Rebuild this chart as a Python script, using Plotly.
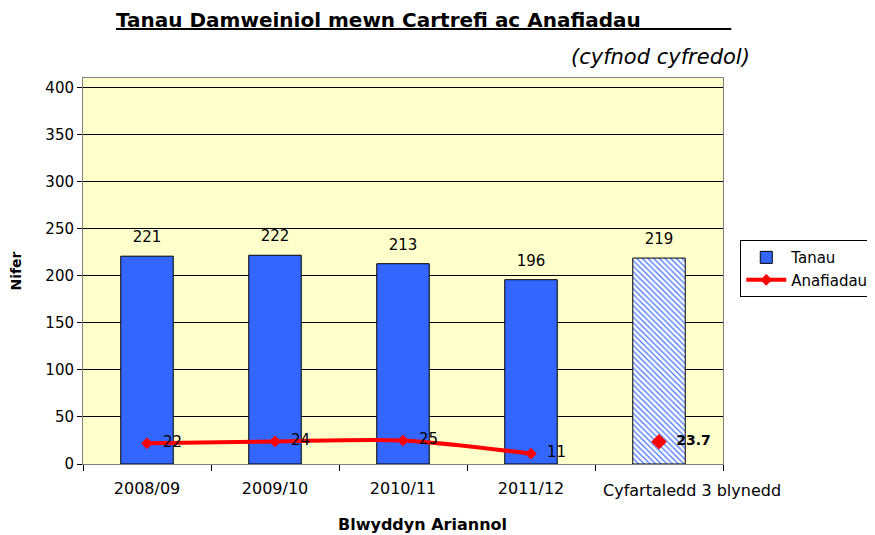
import plotly.graph_objects as go

categories = ["2008/09", "2009/10", "2010/11", "2011/12", "Cyfartaledd 3 blynedd"]
fires = [221, 222, 213, 196, 219]
injury_cats = ["2008/09", "2009/10", "2010/11", "2011/12"]
injuries = [22, 24, 25, 11]
avg_injuries = 23.7
y_ticks = [0, 50, 100, 150, 200, 250, 300, 350, 400]
# last category label sits right of its slot in the original; drawn separately
tick_labels = categories[:4] + [""]

FONT = "DejaVu Sans, Verdana, sans-serif"
BLUE = "#3366FF"

fig = go.Figure()

# annual bars (solid)
fig.add_trace(go.Bar(
    x=categories[:4], y=fires[:4], name="Tanau",
    width=0.41,
    marker=dict(color=BLUE, line=dict(color="black", width=1)),
))

# average bar (hatched)
fig.add_trace(go.Bar(
    x=categories[4:], y=fires[4:], name="Tanau", showlegend=False,
    width=0.41,
    marker=dict(
        color="white",
        line=dict(color="black", width=1),
        pattern=dict(shape="\\", fgcolor=BLUE, bgcolor="white",
                     fgopacity=0.85, size=4, solidity=0.35, fillmode="replace"),
    ),
))

# bar value labels placed above the bars
fig.add_trace(go.Scatter(
    x=categories, y=fires, mode="markers+text", showlegend=False,
    marker=dict(size=15, opacity=0),
    text=[str(v) for v in fires], textposition="top center",
    textfont=dict(size=15, color="black", family=FONT),
    hoverinfo="skip", cliponaxis=False,
))

fig.add_trace(go.Scatter(
    x=injury_cats, y=injuries, name="Anafiadau",
    mode="lines+markers",
    line=dict(color="#FF0000", width=4, shape="spline", smoothing=0.8),
    marker=dict(symbol="diamond", size=9, color="#FF0000"),
))

# injury value labels, offset to the right of the markers
fig.add_trace(go.Scatter(
    x=injury_cats, y=injuries, mode="markers+text", showlegend=False,
    marker=dict(size=24, opacity=0),
    text=[str(v) for v in injuries], textposition="middle right",
    textfont=dict(size=15, color="black", family=FONT),
    hoverinfo="skip", cliponaxis=False,
))

fig.add_trace(go.Scatter(
    x=[categories[-1]], y=[avg_injuries], name="Anafiadau",
    mode="markers", showlegend=False,
    marker=dict(symbol="diamond", size=12, color="#FF0000"),
))

fig.add_trace(go.Scatter(
    x=[categories[-1]], y=[avg_injuries], mode="markers+text", showlegend=False,
    marker=dict(size=26, opacity=0),
    text=["<b>%.1f</b>" % avg_injuries], textposition="middle right",
    textfont=dict(size=14, color="black", family=FONT),
    hoverinfo="skip", cliponaxis=False,
))

title_txt = ("<u><b>Tanau Damweiniol mewn Cartrefi ac Anafiadau"
             + "&nbsp;" * 13 + "</b></u>")

# page has an 8px body margin; figure is sized/offset to compensate
fig.update_layout(
    width=867, height=527,
    margin=dict(l=75, r=152, t=70, b=71, autoexpand=False),
    paper_bgcolor="white",
    plot_bgcolor="#FFFFCC",
    font=dict(family=FONT, size=15, color="black"),
    barmode="overlay",
    showlegend=True,
    legend=dict(
        x=1.027, y=0.58, xanchor="left", yanchor="top",
        bgcolor="white", bordercolor="black", borderwidth=1,
        font=dict(size=15, family=FONT), tracegroupgap=0,
        itemwidth=40,
    ),
    annotations=[
        dict(text=title_txt, xref="paper", yref="paper", x=(114 - 83) / 640,
             y=1 + (78 - 20) / 386, xanchor="left", yanchor="middle",
             showarrow=False, font=dict(size=20, family=FONT)),
        dict(text="<i>(cyfnod cyfredol)</i>", xref="paper", yref="paper",
             x=(752 - 83) / 640, y=1 + (78 - 57) / 386, xanchor="right",
             yanchor="middle", showarrow=False, font=dict(size=21, family=FONT)),
        dict(text="<b>Blwyddyn Ariannol</b>", xref="paper", yref="paper",
             x=(422 - 83) / 640, y=-(524 - 464) / 386, xanchor="center",
             yanchor="middle", showarrow=False, font=dict(size=16, family=FONT)),
        dict(text=categories[4], xref="x", yref="paper",
             x=categories[4], xshift=33, y=-(490 - 464) / 386,
             xanchor="center", yanchor="middle", showarrow=False,
             font=dict(size=16, family=FONT)),
    ],
    xaxis=dict(
        type="category", categoryorder="array", categoryarray=categories,
        range=[-0.5, len(categories) - 0.5], autorange=False,
        tickvals=categories, ticktext=tick_labels,
        tickson="boundaries", ticks="outside", ticklen=6,
        tickcolor="black", showline=True, linecolor="#808080", linewidth=1,
        mirror=True, showgrid=False, tickangle=0, automargin=False,
        ticklabelstandoff=10,
        tickfont=dict(size=16, family=FONT),
    ),
    yaxis=dict(
        range=[0, 410.5], tickvals=y_ticks, ticks="outside", ticklen=5,
        tickcolor="black", showline=True, linecolor="#808080", linewidth=1,
        mirror=True, showgrid=True, gridcolor="black", gridwidth=1,
        zeroline=False, automargin=False,
        tickfont=dict(size=15, family=FONT),
        title=dict(text="<b>Nifer</b>", font=dict(size=14, family=FONT), standoff=20),
    ),
)

fig.write_html("out.html")
